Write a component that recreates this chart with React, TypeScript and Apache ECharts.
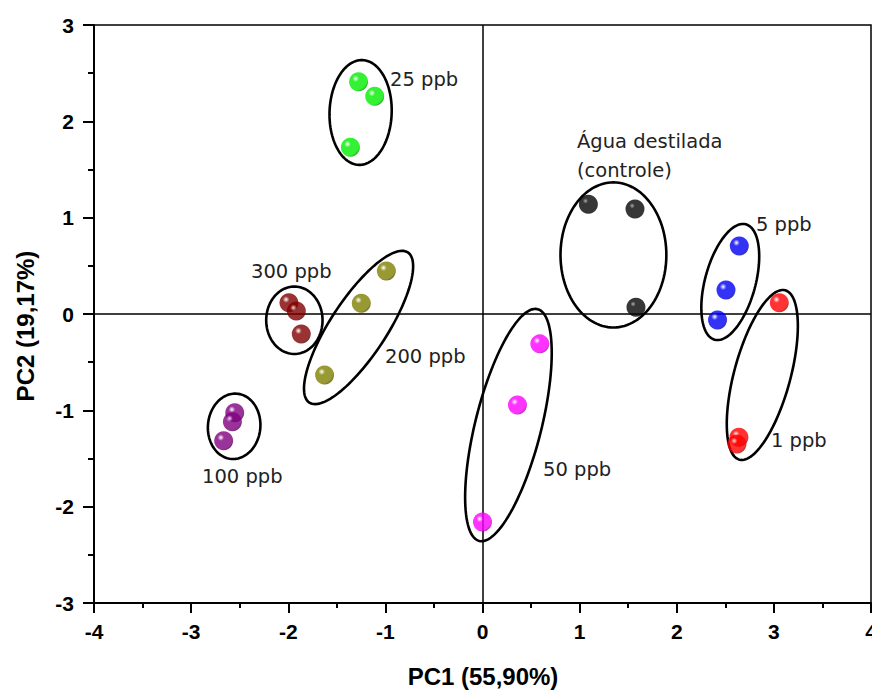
import React, { useEffect, useRef } from "react";
import * as echarts from "echarts";

// PCA scores [PC1, PC2]
const pts25: number[][] = [[-1.276, 2.41], [-1.11, 2.26], [-1.36, 1.73]];
const ptsAgua: number[][] = [[1.09, 1.14], [1.57, 1.09], [1.58, 0.07]];
const pts5: number[][] = [[2.644, 0.706], [2.507, 0.249], [2.42, -0.062]];
const pts1: number[][] = [[3.056, 0.117], [2.64, -1.28], [2.62, -1.35]];
const pts50: number[][] = [[0.59, -0.31], [0.36, -0.945], [0.0, -2.16]];
const pts200: number[][] = [[-0.99, 0.446], [-1.248, 0.111], [-1.626, -0.633]];
const pts300: number[][] = [[-1.993, 0.117], [-1.917, 0.031], [-1.866, -0.208]];
const pts100: number[][] = [[-2.551, -1.025], [-2.575, -1.118], [-2.665, -1.316]];

const groupNames = ["25 ppb", "Água destilada", "5 ppb", "1 ppb", "50 ppb", "200 ppb", "300 ppb", "100 ppb"];
const groupPoints = [pts25, ptsAgua, pts5, pts1, pts50, pts200, pts300, pts100];
const groupColors = ["#00ee00", "#050505", "#0000f5", "#ff0000", "#ff00ff", "#808000", "#800000", "#800080"];
const groupDark = ["#00a000", "#000000", "#0000a0", "#b00000", "#b000b0", "#555500", "#550000", "#550055"];
const groupHighlight = ["#ffffff", "#9a9a9a", "#ffffff", "#ffffff", "#ffffff", "#ffffff", "#ffffff", "#ffffff"];

// confidence ellipses: [cx, cy, semi-major (vertical-ish), semi-minor, tilt deg clockwise]
const ellipses: number[][] = [
  [-1.255, 2.092, 0.544, 0.32, 2],
  [1.348, 0.613, 0.753, 0.545, 0],
  [2.551, 0.332, 0.62, 0.26, 15],
  [2.881, -0.633, 0.91, 0.29, 15],
  [0.267, -1.153, 1.24, 0.34, 14],
  [-1.276, -0.14, 0.93, 0.29, 33],
  [-1.937, -0.065, 0.35, 0.29, 0],
  [-2.557, -1.166, 0.34, 0.27, 5],
];

// annotation texts: [text, left px, cap-middle px]
const labelTexts = ["25 ppb", "Água destilada", "(controle)", "5 ppb", "1 ppb", "50 ppb", "200 ppb", "300 ppb", "100 ppb"];
const labelPos: number[][] = [
  [390, 79], [577, 141], [577, 170], [756, 224], [771, 440], [543, 469], [385, 356], [251, 271], [202, 476],
];

const xTitle = "PC1 (55,90%)";
const yTitle = "PC2 (19,17%)";

export default function App() {
  const ref = useRef<HTMLDivElement>(null);
  useEffect(() => {
    if (!ref.current) return;
    const chart = echarts.init(ref.current, null, { renderer: "svg" });
    const boldFont = "Liberation Sans, Arial, sans-serif";
    const scatterSeries = groupPoints.map((pts, i) => ({
      type: "scatter",
      name: groupNames[i],
      data: pts,
      symbol: "circle",
      symbolSize: 19,
      z: 5,
      itemStyle: {
        color: new echarts.graphic.RadialGradient(0.35, 0.33, 0.7, [
          { offset: 0, color: groupHighlight[i] },
          { offset: i === 1 ? 0.2 : 0.25, color: groupColors[i] },
          { offset: 0.85, color: groupColors[i] },
          { offset: 1, color: groupDark[i] },
        ]),
      },
    }));
    const ellipseSeries = {
      type: "custom",
      z: 3,
      silent: true,
      data: ellipses.map((e) => [e[0], e[1]]),
      encode: { x: 0, y: 1 },
      renderItem: (params: any, api: any) => {
        const e = ellipses[params.dataIndex];
        const th = (e[4] * Math.PI) / 180;
        const ux = Math.sin(th), uy = Math.cos(th);
        const vx = Math.cos(th), vy = -Math.sin(th);
        const points: number[][] = [];
        for (let k = 0; k < 120; k++) {
          const t = (k / 120) * Math.PI * 2;
          const dx = e[2] * Math.cos(t) * ux + e[3] * Math.sin(t) * vx;
          const dy = e[2] * Math.cos(t) * uy + e[3] * Math.sin(t) * vy;
          points.push(api.coord([e[0] + dx, e[1] + dy]));
        }
        return {
          type: "polygon",
          shape: { points },
          style: { fill: "none", stroke: "#000", lineWidth: 2.6 },
        };
      },
    };
    const zeroSeries = {
      type: "scatter",
      data: [],
      z: 2,
      markLine: {
        silent: true,
        symbol: "none",
        label: { show: false },
        lineStyle: { color: "#000", width: 1.5, type: "solid" },
        data: [{ xAxis: 0 }, { yAxis: 0 }],
      },
    };
    const texts = labelTexts.map((t, i) => ({
      type: "text",
      x: labelPos[i][0],
      y: labelPos[i][1],
      z: 10,
      style: {
        text: t,
        fill: "#222",
        font: "19.5px 'DejaVu Sans', sans-serif",
        textAlign: "left",
        textVerticalAlign: "middle",
        align: "left",
        verticalAlign: "middle",
      },
    }));
    chart.setOption({
      animation: false,
      backgroundColor: "#fff",
      grid: {
        left: 94,
        top: 25,
        right: 1,
        bottom: 88,
        outerBoundsMode: "none",
        containLabel: false,
        show: true,
        borderColor: "#000",
        borderWidth: 1.5,
        backgroundColor: "transparent",
      },
      xAxis: {
        type: "value",
        min: -4,
        max: 4,
        interval: 1,
        splitLine: { show: false },
        axisLine: { onZero: false, lineStyle: { color: "#000", width: 2 } },
        axisTick: { length: 10, lineStyle: { width: 2, color: "#000" } },
        minorTick: { show: true, splitNumber: 2, length: 5, lineStyle: { width: 2, color: "#000" } },
        axisLabel: { margin: 18, color: "#000", fontSize: 21, fontWeight: "bold", fontFamily: boldFont },
      },
      yAxis: {
        type: "value",
        min: -3,
        max: 3,
        interval: 1,
        splitLine: { show: false },
        axisLine: { onZero: false, lineStyle: { color: "#000", width: 2 } },
        axisTick: { length: 11, lineStyle: { width: 2, color: "#000" } },
        minorTick: { show: true, splitNumber: 2, length: 6, lineStyle: { width: 2, color: "#000" } },
        axisLabel: { margin: 20, color: "#000", fontSize: 21, fontWeight: "bold", fontFamily: boldFont },
      },
      graphic: [
        {
          type: "text",
          x: 483,
          y: 676,
          style: {
            text: xTitle,
            fill: "#000",
            font: "bold 24px 'Liberation Sans', Arial, sans-serif",
            textAlign: "center",
            textVerticalAlign: "middle",
            align: "center",
            verticalAlign: "middle",
          },
        },
        {
          type: "text",
          x: 25,
          y: 326,
          rotation: Math.PI / 2,
          style: {
            text: yTitle,
            fill: "#000",
            font: "bold 24px 'Liberation Sans', Arial, sans-serif",
            textAlign: "center",
            textVerticalAlign: "middle",
            align: "center",
            verticalAlign: "middle",
          },
        },
        ...texts,
      ],
      series: [zeroSeries, ellipseSeries, ...scatterSeries],
    });
    return () => chart.dispose();
  }, []);
  return <div ref={ref} style={{ width: 872, height: 691, position: "absolute", left: 0, top: 0 }} />;
}
